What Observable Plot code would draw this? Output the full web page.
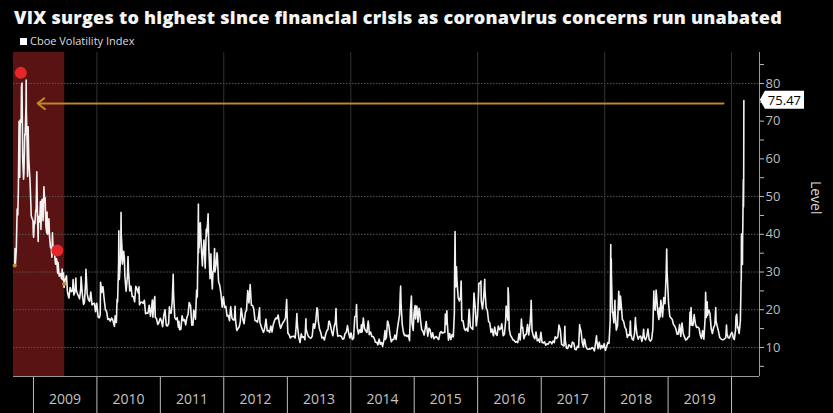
<!DOCTYPE html>
<html>
<head>
<meta charset="utf-8">
<script src="https://cdn.jsdelivr.net/npm/d3@7"></script>
<script src="https://cdn.jsdelivr.net/npm/@observablehq/plot@0.6"></script>
<style>
  html, body { margin: 0; padding: 0; background: #000; }
  body { width: 833px; height: 413px; overflow: hidden; position: relative; font-family: "Open Sans", sans-serif; }
  #title { position: absolute; left: 14px; top: 8px; font-size: 18px; line-height: 1; font-weight: 800; color: #f4f4f4; white-space: nowrap; letter-spacing: 0.24px; }
  #legend { position: absolute; left: 20px; top: 35px; font-size: 11px; line-height: 1; color: #dcdcdc; white-space: nowrap; }
  #legend .sw { display: inline-block; width: 7px; height: 7px; background: #fff; margin-right: 3px; vertical-align: 0px; }
  #chart { position: absolute; left: 0; top: 50px; }
</style>
</head>
<body>
<div id="title">VIX surges to highest since financial crisis as coronavirus concerns run unabated</div>
<div id="legend"><span class="sw"></span>Cboe Volatility Index</div>
<div id="chart"></div>
<script>
// ---- Data (approximate VIX closes) ----
const vix2008 = [["09-15",31.7],["09-17",36.2],["09-19",32.1],["09-24",35.7],["09-29",46.7],["10-03",45.1],["10-06",52.1],["10-10",69.95],["10-14",55.1],["10-16",67.6],["10-17",70.3],["10-22",69.7],["10-24",79.1],["10-27",80.1],["10-29",69.96],["10-31",59.9],["11-05",54.6],["11-07",56.1],["11-12",66.5],["11-14",66.3],["11-19",74.3],["11-20",80.9],["11-21",72.7],["11-25",64.7],["11-28",55.3],["12-01",68.5],["12-05",59.9],["12-10",55.7],["12-12",54.3],["12-17",47.9],["12-19",44.9],["12-24",44.2],["12-29",43.7],["12-31",40.0]];
const vix2009 = [["01-02",39.2],["01-06",43.4],["01-09",42.8],["01-14",46.4],["01-16",46.1],["01-20",56.6],["01-23",47.3],["01-28",38.1],["01-30",44.8],["02-04",43.3],["02-06",43.4],["02-10",48.7],["02-13",41.3],["02-17",48.6],["02-20",49.3],["02-25",43.6],["02-27",46.4],["03-02",52.6],["03-06",49.3],["03-09",49.7],["03-13",42.4],["03-18",40.4],["03-20",45.9],["03-23",40.0],["03-27",40.4],["03-31",44.1],["04-03",39.7],["04-09",36.5],["04-14",36.2],["04-17",33.9],["04-20",40.4],["04-24",35.8],["04-30",36.5],["05-06",32.8],["05-08",32.1],["05-13",33.6],["05-15",33.1],["05-20",29.7],["05-22",32.6],["05-29",28.9],["06-05",29.6],["06-10",28.5],["06-12",28.2],["06-15",30.8],["06-19",27.9],["06-23",29.7],["06-26",25.9],["07-02",27.9],["07-10",29.0],["07-15",25.0],["07-17",24.3],["07-24",23.1],["07-31",25.9],["08-07",24.8],["08-14",25.0],["08-17",27.99],["08-21",23.9],["08-28",24.8],["09-02",28.4],["09-04",25.3],["09-11",24.2],["09-18",23.5],["09-23",22.9],["09-30",25.6],["10-02",28.7],["10-09",24.2],["10-16",21.4],["10-21",21.9],["10-28",27.2],["10-30",30.7],["11-06",24.2],["11-13",22.7],["11-20",22.2],["11-27",24.7],["12-04",21.3],["12-11",21.6],["12-18",21.7],["12-24",19.5],["12-31",21.7]];
const vix2010 = [["01-08",18.1],["01-13",17.9],["01-15",17.9],["01-20",18.7],["01-22",27.3],["01-29",24.6],["02-04",26.1],["02-05",26.1],["02-12",22.7],["02-19",20.0],["02-26",19.5],["03-05",17.4],["03-12",17.6],["03-19",16.97],["03-26",17.8],["04-01",17.5],["04-09",16.1],["04-12",15.6],["04-16",18.4],["04-23",16.6],["04-27",22.8],["04-30",22.05],["05-06",32.8],["05-07",40.95],["05-10",28.0],["05-14",31.2],["05-18",33.6],["05-20",45.8],["05-21",40.1],["05-25",36.6],["05-28",32.1],["06-04",35.5],["06-08",33.7],["06-11",28.8],["06-18",24.9],["06-25",28.5],["06-29",34.1],["07-02",30.1],["07-09",24.98],["07-16",26.25],["07-23",23.5],["07-30",23.5],["08-06",22.1],["08-13",26.2],["08-20",25.5],["08-27",24.45],["08-31",26.05],["09-03",21.3],["09-10",21.99],["09-17",22.0],["09-24",21.7],["10-01",22.5],["10-08",18.96],["10-15",19.1],["10-22",19.1],["10-29",21.2],["11-05",18.3],["11-12",20.6],["11-16",22.6],["11-19",18.0],["11-26",22.2],["11-30",23.5],["12-03",18.0],["12-10",17.6],["12-17",16.1],["12-23",16.5],["12-31",17.75]];
const vix2011 = [["01-07",17.1],["01-14",15.5],["01-21",18.5],["01-28",20.0],["02-04",15.9],["02-11",15.7],["02-18",16.4],["02-22",20.8],["02-25",19.2],["03-04",19.1],["03-10",21.9],["03-16",29.4],["03-18",24.4],["03-25",17.9],["04-01",17.4],["04-08",17.9],["04-15",15.3],["04-18",16.96],["04-22",14.7],["04-29",14.75],["05-06",18.4],["05-13",17.1],["05-20",17.4],["05-27",15.98],["06-03",17.95],["06-10",18.9],["06-16",21.9],["06-24",21.1],["07-01",15.9],["07-08",15.95],["07-12",19.9],["07-15",19.5],["07-22",17.5],["07-29",25.25],["08-02",23.4],["08-04",31.7],["08-05",32.0],["08-08",48.0],["08-09",35.1],["08-10",43.0],["08-12",36.4],["08-18",42.7],["08-19",43.05],["08-26",35.6],["08-31",31.6],["09-02",33.9],["09-09",38.5],["09-16",30.98],["09-22",41.35],["09-23",39.45],["09-30",42.96],["10-03",45.45],["10-07",36.2],["10-14",28.2],["10-19",34.8],["10-21",31.3],["10-27",25.5],["10-31",29.96],["11-04",30.5],["11-09",36.2],["11-11",30.0],["11-18",32.0],["11-23",35.1],["11-25",34.5],["12-02",27.5],["12-09",26.4],["12-16",24.3],["12-23",20.7],["12-30",23.4]];
const vix2012 = [["01-06",20.6],["01-13",20.9],["01-20",18.3],["01-27",18.5],["02-03",17.1],["02-10",20.8],["02-17",17.8],["02-24",17.3],["03-02",17.3],["03-06",20.9],["03-09",17.1],["03-16",14.5],["03-23",15.0],["03-30",15.5],["04-05",16.7],["04-10",20.4],["04-13",19.6],["04-20",17.4],["04-27",16.3],["05-04",19.2],["05-11",19.9],["05-18",25.1],["05-25",21.8],["06-01",26.7],["06-08",21.2],["06-15",21.1],["06-22",20.1],["06-29",17.1],["07-06",17.1],["07-13",16.7],["07-20",18.5],["07-25",20.5],["07-27",16.7],["08-03",15.6],["08-10",14.7],["08-17",14.0],["08-24",15.2],["08-31",17.5],["09-07",14.4],["09-14",14.5],["09-21",13.98],["09-28",15.7],["10-05",14.1],["10-12",16.1],["10-19",17.1],["10-26",17.8],["11-02",17.6],["11-09",18.6],["11-16",16.4],["11-23",15.1],["11-30",15.9],["12-07",16.6],["12-14",17.0],["12-21",17.8],["12-28",22.7],["12-31",18.0]];
const vix2013 = [["01-04",13.8],["01-11",13.4],["01-18",12.5],["01-25",12.9],["02-01",12.9],["02-08",13.0],["02-15",12.5],["02-20",15.2],["02-25",18.99],["02-26",16.9],["03-01",15.4],["03-08",12.6],["03-15",11.3],["03-22",13.6],["03-28",12.7],["04-05",12.85],["04-12",12.06],["04-18",17.6],["04-19",14.97],["04-26",13.6],["05-03",12.85],["05-10",12.6],["05-17",12.45],["05-24",13.0],["05-31",16.3],["06-07",15.1],["06-14",17.15],["06-20",20.5],["06-24",20.1],["06-28",16.9],["07-05",14.9],["07-12",14.0],["07-19",12.5],["07-26",12.7],["08-02",11.98],["08-09",13.4],["08-16",14.4],["08-23",14.8],["08-27",16.8],["08-30",17.0],["09-06",15.85],["09-13",14.2],["09-20",13.1],["09-27",15.5],["10-04",16.7],["10-08",20.3],["10-11",15.7],["10-18",13.0],["10-25",13.1],["11-01",13.1],["11-08",12.9],["11-15",12.2],["11-22",12.3],["11-29",13.7],["12-06",14.0],["12-13",15.8],["12-20",13.8],["12-27",12.5],["12-31",13.7]];
const vix2014 = [["01-03",13.8],["01-10",12.1],["01-17",12.4],["01-24",18.1],["01-31",18.4],["02-03",21.4],["02-07",15.3],["02-14",13.6],["02-21",14.7],["02-28",14.0],["03-03",16.0],["03-07",14.1],["03-14",17.8],["03-21",15.0],["03-28",14.4],["04-04",13.96],["04-11",17.0],["04-15",15.6],["04-17",13.4],["04-25",14.1],["05-02",12.9],["05-09",12.9],["05-16",12.4],["05-23",11.4],["05-30",11.4],["06-06",10.7],["06-13",12.2],["06-20",10.85],["06-27",11.3],["07-03",10.3],["07-11",12.1],["07-17",14.5],["07-18",12.1],["07-25",12.7],["07-31",16.95],["08-01",17.0],["08-08",15.8],["08-15",13.2],["08-22",11.5],["08-29",12.1],["09-05",12.1],["09-12",13.3],["09-19",12.1],["09-26",14.85],["10-02",16.7],["10-09",18.8],["10-13",24.6],["10-15",26.25],["10-17",21.99],["10-24",16.1],["10-31",14.0],["11-07",13.1],["11-14",13.3],["11-21",12.9],["11-28",13.3],["12-05",11.8],["12-10",19.6],["12-12",21.1],["12-16",23.6],["12-19",16.5],["12-26",14.5],["12-31",19.2]];
const vix2015 = [["01-06",21.1],["01-09",17.55],["01-13",20.6],["01-16",20.95],["01-23",16.7],["01-29",20.4],["02-02",19.4],["02-06",17.3],["02-13",14.7],["02-20",14.3],["02-27",13.3],["03-06",15.2],["03-11",16.9],["03-13",16.0],["03-20",13.0],["03-27",15.1],["04-02",14.7],["04-10",12.6],["04-17",13.9],["04-24",12.3],["05-01",12.7],["05-08",12.9],["05-15",12.4],["05-22",12.1],["05-29",13.8],["06-05",14.2],["06-12",13.8],["06-19",13.96],["06-26",14.0],["06-29",18.85],["07-02",16.1],["07-08",19.7],["07-10",16.8],["07-17",11.95],["07-24",13.7],["07-31",12.1],["08-07",13.4],["08-14",12.8],["08-20",19.1],["08-21",28.0],["08-24",40.7],["08-25",36.0],["08-26",30.3],["08-28",26.05],["09-01",31.4],["09-04",27.8],["09-11",23.2],["09-18",22.3],["09-25",23.6],["09-28",27.6],["10-02",17.1],["10-09",17.1],["10-16",15.05],["10-23",14.5],["10-30",15.07],["11-06",14.3],["11-13",20.1],["11-20",15.5],["11-27",15.1],["12-04",14.8],["12-11",24.4],["12-14",22.7],["12-18",20.7],["12-24",15.7],["12-31",18.2]];
const vix2016 = [["01-07",24.99],["01-08",27.0],["01-15",27.0],["01-20",27.6],["01-22",22.3],["01-29",20.2],["02-05",23.4],["02-11",28.1],["02-12",25.4],["02-19",20.5],["02-26",19.8],["03-04",16.9],["03-11",16.5],["03-18",14.0],["03-24",14.9],["04-01",13.1],["04-08",15.4],["04-15",13.6],["04-22",13.2],["04-29",15.7],["05-06",14.7],["05-13",15.0],["05-19",16.3],["05-27",13.1],["06-03",13.5],["06-10",17.0],["06-13",20.97],["06-16",19.4],["06-23",17.25],["06-24",25.8],["06-27",23.85],["07-01",14.8],["07-08",13.2],["07-15",12.7],["07-22",12.0],["07-29",11.9],["08-05",11.4],["08-12",11.55],["08-19",11.3],["08-26",13.65],["09-02",11.98],["09-09",17.5],["09-12",15.2],["09-16",15.4],["09-23",12.3],["09-30",13.3],["10-07",13.5],["10-14",16.1],["10-21",13.3],["10-28",16.2],["11-02",19.3],["11-04",22.5],["11-09",14.4],["11-18",12.85],["11-25",12.3],["12-02",14.1],["12-09",11.75],["12-16",12.2],["12-23",11.4],["12-30",14.0]];
const vix2017 = [["01-06",11.3],["01-13",11.2],["01-20",11.5],["01-27",10.6],["02-03",10.97],["02-10",10.85],["02-17",11.5],["02-24",11.5],["03-03",10.96],["03-10",11.7],["03-17",11.3],["03-22",12.8],["03-31",12.4],["04-07",12.9],["04-13",15.96],["04-21",14.6],["04-28",10.8],["05-05",10.6],["05-12",10.4],["05-17",15.6],["05-19",12.0],["05-26",9.8],["06-02",9.75],["06-09",10.7],["06-16",10.4],["06-23",10.0],["06-29",11.4],["07-07",11.2],["07-14",9.5],["07-21",9.4],["07-28",10.3],["08-04",10.0],["08-10",16.04],["08-11",15.5],["08-18",14.3],["08-25",11.3],["09-01",10.1],["09-05",12.2],["09-08",12.1],["09-15",10.2],["09-22",9.6],["09-29",9.5],["10-06",9.65],["10-13",9.6],["10-20",10.0],["10-27",9.8],["11-03",9.1],["11-10",11.3],["11-15",13.1],["11-17",11.8],["11-24",9.7],["12-01",11.4],["12-08",9.6],["12-15",10.5],["12-22",9.9],["12-29",11.0]];
const vix2018 = [["01-05",9.2],["01-12",10.2],["01-19",11.3],["01-26",11.1],["02-02",17.3],["02-05",37.3],["02-06",29.98],["02-07",27.7],["02-08",33.5],["02-09",29.1],["02-14",19.3],["02-16",19.5],["02-23",16.5],["03-01",22.5],["03-02",19.6],["03-09",14.6],["03-16",15.8],["03-22",23.3],["03-23",24.9],["03-29",19.97],["04-02",23.6],["04-06",21.5],["04-13",17.4],["04-20",16.9],["04-27",15.4],["05-04",14.8],["05-11",12.65],["05-18",13.4],["05-25",13.2],["05-29",17.0],["06-01",13.5],["06-08",12.2],["06-15",11.98],["06-22",13.8],["06-27",17.9],["06-29",16.1],["07-06",13.4],["07-13",12.2],["07-20",12.9],["07-27",13.0],["08-03",11.6],["08-10",13.2],["08-13",14.8],["08-17",12.6],["08-24",11.99],["08-31",12.9],["09-07",14.9],["09-14",12.1],["09-21",11.7],["09-28",12.1],["10-05",14.8],["10-10",22.96],["10-11",24.98],["10-12",21.3],["10-19",19.9],["10-24",25.2],["10-26",24.2],["10-31",21.2],["11-02",19.5],["11-09",17.4],["11-12",20.45],["11-16",18.1],["11-20",22.5],["11-23",21.5],["11-30",18.1],["12-04",20.7],["12-07",23.2],["12-14",21.6],["12-20",28.4],["12-21",30.1],["12-24",36.1],["12-26",30.4],["12-28",28.3],["12-31",25.4]];
const vix2019 = [["01-04",21.4],["01-11",18.2],["01-18",17.8],["01-25",17.4],["02-01",16.1],["02-08",15.7],["02-15",14.9],["02-22",13.5],["03-01",13.6],["03-08",16.05],["03-15",12.9],["03-22",16.5],["03-29",13.7],["04-05",12.8],["04-12",12.0],["04-18",12.1],["04-26",12.7],["05-03",12.9],["05-07",19.3],["05-10",16.0],["05-13",20.55],["05-17",15.96],["05-24",15.85],["05-31",18.7],["06-07",16.3],["06-14",15.3],["06-21",15.4],["06-28",15.1],["07-05",13.3],["07-12",12.4],["07-19",14.45],["07-26",12.2],["07-31",16.1],["08-02",17.6],["08-05",24.6],["08-09",17.97],["08-14",22.1],["08-16",18.5],["08-23",19.9],["08-30",18.98],["09-06",15.0],["09-13",13.7],["09-20",15.3],["09-27",15.96],["10-02",20.6],["10-04",17.0],["10-11",15.6],["10-18",14.25],["10-25",12.65],["11-01",12.3],["11-08",12.07],["11-15",12.05],["11-22",12.3],["11-29",12.6],["12-03",15.96],["12-06",13.6],["12-13",12.6],["12-20",12.5],["12-27",13.4],["12-31",13.8]];
const vix2020 = [["01-03",14.0],["01-08",13.45],["01-10",12.6],["01-17",12.1],["01-24",14.6],["01-27",18.2],["01-31",18.8],["02-05",15.15],["02-07",15.5],["02-14",13.7],["02-21",17.1],["02-24",25.0],["02-25",27.85],["02-26",27.6],["02-27",39.2],["02-28",40.1],["03-02",33.4],["03-03",36.8],["03-04",31.99],["03-05",39.6],["03-06",41.9],["03-09",54.5],["03-10",47.3],["03-11",53.9],["03-12",75.47]];

const seriesYears = [2008,2009,2010,2011,2012,2013,2014,2015,2016,2017,2018,2019,2020];
const seriesByYear = [vix2008,vix2009,vix2010,vix2011,vix2012,vix2013,vix2014,vix2015,vix2016,vix2017,vix2018,vix2019,vix2020];

const yearLabels = [2009,2010,2011,2012,2013,2014,2015,2016,2017,2018,2019];
const yearBoundaries = [2009,2010,2011,2012,2013,2014,2015,2016,2017,2018,2019,2020];
const gridYears = [2010,2012,2014,2016,2018,2020];
const yTicks = [5,10,15,20,25,30,35,40,45,50,55,60,65,70,75,80,85];
const yTickLabels = [10,20,30,40,50,60,70,80];
const yGrid = [10,20,30,40,50,80];
const xDomain = ["2008-09-08","2020-06-10"];
const yDomain = [2.3, 88.2];

// Recession shading (to June 2009)
const recession = [{start: "2008-09-08", end: "2009-06-30"}];
// Event markers (red) and small orange markers
const eventDates = ["2008-10-20","2009-05-18"];
const eventValues = [82.8, 35.7];
const smallMarkDates = ["2008-09-15","2009-06-26"];
const smallMarkValues = [31.7, 26.8];
// Arrow annotation pointing back to the 2008 level
const arrowFrom = "2019-11-16";
const arrowTo = "2009-01-24";
const arrowLevel = 74.7;

// ---- Build ----
const utc = s => new Date(s + "T00:00:00Z");
const data = seriesByYear.flatMap((arr, i) => arr.map(([md, v]) => ({date: utc(`${seriesYears[i]}-${md}`), value: v})));
const last = data[data.length - 1];
const events = eventDates.map((d, i) => ({date: utc(d), value: eventValues[i]}));
const smallMarks = smallMarkDates.map((d, i) => ({date: utc(d), value: smallMarkValues[i]}));

const plot = Plot.plot({
  width: 833,
  height: 363,
  marginTop: 2,
  marginBottom: 37,
  marginLeft: 13,
  marginRight: 74,
  style: {background: "#000", color: "#bdbdbd", fontFamily: "Open Sans, sans-serif", fontSize: "13px"},
  x: {
    type: "utc",
    domain: xDomain.map(utc),
    ticks: yearBoundaries.map(y => utc(`${y}-01-01`)),
    tickSize: 37,
    tickFormat: () => "",
    label: null
  },
  y: {
    domain: yDomain,
    axis: "right",
    ticks: yTicks,
    tickSize: 4,
    tickPadding: 2,
    tickFormat: d => yTickLabels.includes(d) ? String(d) : "",
    label: null
  },
  marks: [
    Plot.rect(recession, {x1: d => utc(d.start), x2: d => utc(d.end), y1: yDomain[0], y2: yDomain[1], fill: "#5a1313"}),
    Plot.ruleY(yGrid, {stroke: "#5a5a5a", strokeDasharray: "1.5,1.5", strokeWidth: 1}),
    Plot.ruleX(gridYears.map(y => utc(`${y}-01-01`)), {stroke: "#333", strokeWidth: 1}),
    Plot.ruleY([yDomain[0]], {stroke: "#9a9a9a", strokeWidth: 1}),
    Plot.ruleX([utc(xDomain[1])], {stroke: "#9a9a9a", strokeWidth: 1}),
    Plot.arrow([{x1: utc(arrowFrom), x2: utc(arrowTo), y: arrowLevel}], {
      x1: "x1", x2: "x2", y1: "y", y2: "y",
      stroke: "#c08a2a", strokeWidth: 2, strokeDasharray: "1,1.4", headLength: 7, headAngle: 75, bend: 0
    }),
    Plot.line(data, {x: "date", y: "value", stroke: "#f2f2f2", strokeWidth: 1.6}),
    Plot.dot(smallMarks, {x: "date", y: "value", r: 2, fill: "#d08a20"}),
    Plot.dot(events, {x: "date", y: "value", r: 6, fill: "#e5262b"}),
    Plot.text([last], {x: "date", y: "value", text: d => d.value.toFixed(2), dx: 24, textAnchor: "start", fill: "#000", fontSize: 13}),
    Plot.text(yearLabels, {x: y => utc(`${y}-07-02`), text: y => String(y), frameAnchor: "bottom", dy: 27, fill: "#c4c4c4", fontSize: 14}),
    Plot.text(["Level"], {frameAnchor: "right", dx: 56, rotate: 90, fill: "#d8d8d8", fontSize: 14})
  ]
});

document.getElementById("chart").appendChild(plot);

// Draw the white value-label box with a left pointer behind the last value text
const svgNS = "http://www.w3.org/2000/svg";
plot.querySelectorAll("text").forEach(t => {
  if (t.textContent === last.value.toFixed(2)) {
    const bb = t.getBBox();
    const l = bb.x - 3, r = bb.x + bb.width + 3, top = bb.y, bot = bb.y + bb.height, mid = (top + bot) / 2;
    const p = document.createElementNS(svgNS, "path");
    p.setAttribute("d", `M${l - 5},${mid}L${l},${top}L${r},${top}L${r},${bot}L${l},${bot}Z`);
    p.setAttribute("fill", "#fff");
    const tr = t.getAttribute("transform");
    if (tr) p.setAttribute("transform", tr);
    t.parentNode.insertBefore(p, t);
  }
});
</script>
</body>
</html>
